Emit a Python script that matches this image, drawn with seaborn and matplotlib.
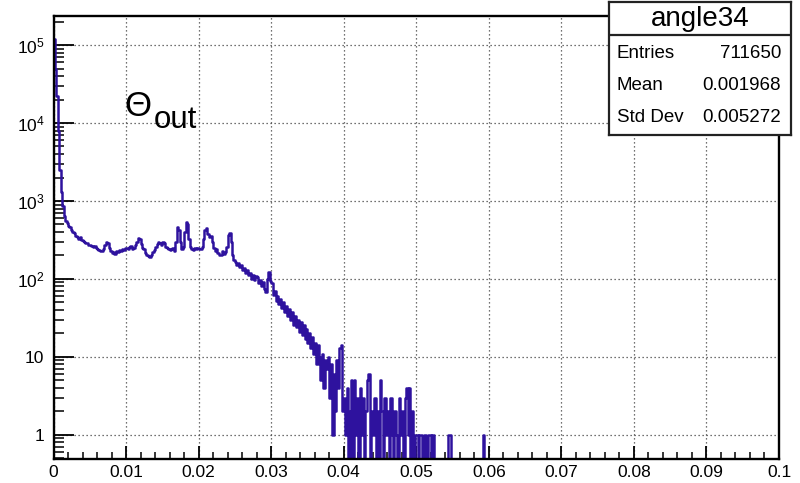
import numpy as np
import pandas as pd
import matplotlib
matplotlib.use("Agg")
import matplotlib.pyplot as plt
import seaborn as sns
from matplotlib.ticker import FixedLocator, FixedFormatter, LogLocator, MultipleLocator, NullFormatter

# Histogram binning: 500 equal bins over [0, 0.1]
x_min, x_max, n_bins = 0.0, 0.1, 500

# Bin contents, in order from x = 0
counts_peak = [120000, 50000, 22000, 8000, 2500, 1300, 850, 650, 560, 520]
counts_plateau = [
    480, 460, 430, 400, 385, 360, 345, 330, 340, 315,
    310, 300, 285, 290, 275, 270, 265, 258, 262, 250,
    245, 238, 230, 225, 240, 275, 295, 285, 250, 225,
    215, 220, 210, 230, 220, 235, 228, 240, 232, 248,
    250, 240, 255, 262, 245, 252, 270, 300, 335, 325,
    280, 250, 240, 215, 200, 195, 190, 205, 220, 235,
    260, 280, 300, 290, 275, 295, 285, 260, 250, 240,
    235, 240, 250, 230, 300, 470, 420, 300, 240, 260,
    400, 545, 500, 330, 255, 245, 235, 250, 240, 250,
    245, 240, 260, 330, 420, 450, 380, 350, 360, 300,
    250, 230, 245, 215, 205, 200, 225, 210, 220, 260,
    370, 390, 300, 200, 175,
]
counts_falloff = [
    165, 150, 160, 142, 150, 132, 140, 120, 130, 112,
    118, 100, 112, 96, 108, 105, 88, 96, 80, 90,
    75, 68, 100, 123, 95, 88, 62, 70, 52, 60,
    47, 55, 42, 50, 38, 45, 33, 41, 30, 38,
    26, 33, 24, 30, 21, 28, 19, 26, 17, 23,
    15, 20, 13, 18, 11, 15, 8, 14, 10, 5,
    11, 4, 9, 7, 10, 3, 8, 1, 6, 2,
    9, 4, 13, 14, 2,
]
counts_tail = [
    3, 1, 4, 0, 2, 5, 0, 5, 1, 3,
    0, 4, 1, 3, 0, 2, 5, 6, 0, 2,
    1, 3, 0, 2, 0, 5, 2, 0, 3, 1,
    2, 0, 3, 1, 0, 2, 1, 0, 3, 1,
    2, 0, 3, 4, 1, 4, 0, 2, 0, 1,
    1, 0, 1, 1, 0, 1, 1, 0, 1, 1,
    0, 1, 0, 0, 0, 0, 0, 0, 0, 0,
    0, 0, 1, 1, 0, 0, 0, 0, 0, 0,
    0, 0, 0, 0, 0, 0, 0, 0, 0, 0,
    0, 0, 0, 0, 0, 0, 1, 0, 0, 0,
]

x_ticks = [0.0, 0.01, 0.02, 0.03, 0.04, 0.05, 0.06, 0.07, 0.08, 0.09, 0.1]
x_tick_labels = ["0", "0.01", "0.02", "0.03", "0.04", "0.05",
                 "0.06", "0.07", "0.08", "0.09", "0.1"]
y_ticks = [1, 10, 100, 1000, 10000, 100000]
y_tick_labels = ["1", "10", r"$\mathdefault{10^{2}}$", r"$\mathdefault{10^{3}}$",
                 r"$\mathdefault{10^{4}}$", r"$\mathdefault{10^{5}}$"]
y_range = (0.49, 2.38e5)

hist_name = "angle34"
stats_labels = ["Entries", "Mean", "Std Dev"]
stats_values = ["711650", "0.001968", "0.005272"]

line_color = "#2e129e"

sns.set_style("ticks")
plt.rcParams["font.family"] = ["Liberation Sans", "DejaVu Sans"]
plt.rcParams["mathtext.fontset"] = "custom"
plt.rcParams["mathtext.rm"] = "Liberation Sans"
plt.rcParams["mathtext.it"] = "Liberation Sans:italic"
plt.rcParams["text.color"] = "black"
plt.rcParams["xtick.color"] = "black"
plt.rcParams["ytick.color"] = "black"
plt.rcParams["xtick.labelcolor"] = "black"
plt.rcParams["ytick.labelcolor"] = "black"

counts = np.array(counts_peak + counts_plateau + counts_falloff + counts_tail, dtype=float)
counts = np.concatenate([counts, np.zeros(n_bins - len(counts))])
edges = np.linspace(x_min, x_max, n_bins + 1)
centers = 0.5 * (edges[:-1] + edges[1:])
df = pd.DataFrame({"angle": centers, "entries": counts})

W, H = 800, 483
fig = plt.figure(figsize=(W / 100, H / 100), dpi=100)
ax = fig.add_axes([53.5 / W, 1 - 459 / H, (779 - 53.5) / W, (459 - 15.7) / H])

sns.histplot(data=df, x="angle", weights="entries", bins=n_bins, binrange=(x_min, x_max),
             element="step", fill=False, color=line_color, linewidth=1.8, ax=ax)
ax.set_yscale("log")
ax.set_xlim(x_min, x_max)
ax.set_ylim(*y_range)
ax.set_xlabel("")
ax.set_ylabel("")

# axis frame and ticks
for side in ["left", "bottom", "right", "top"]:
    ax.spines[side].set_visible(True)
    ax.spines[side].set_color("black")
    ax.spines[side].set_linewidth(1.7)

ax.xaxis.set_major_locator(FixedLocator(x_ticks))
ax.xaxis.set_major_formatter(FixedFormatter(x_tick_labels))
ax.xaxis.set_minor_locator(MultipleLocator(0.002))
ax.yaxis.set_major_locator(FixedLocator(y_ticks))
ax.yaxis.set_major_formatter(FixedFormatter(y_tick_labels))
ax.yaxis.set_minor_locator(LogLocator(base=10, subs=np.arange(2, 10), numticks=20))
ax.yaxis.set_minor_formatter(NullFormatter())

ax.tick_params(axis="x", which="major", direction="in", length=9.5, width=1.3,
               labelsize=12.5, pad=4.5, top=False, colors="black")
ax.tick_params(axis="x", which="minor", direction="in", length=5, width=1.1, top=False,
               colors="black")
ax.tick_params(axis="y", which="major", direction="in", length=14.5, width=1.3,
               labelsize=12.5, pad=6.5, right=False, colors="black")
ax.tick_params(axis="y", which="minor", direction="in", length=7, width=1.1, right=False,
               colors="black")

ax.grid(True, which="major", color="#444444", linestyle=(0, (1, 2.2)), linewidth=0.9)

# angle label
fig.text(124 / W, 1 - 116.5 / H, "\u0398", fontsize=25, va="baseline", ha="left",
         color="black")
fig.text(154 / W, 1 - 127.5 / H, "out", fontsize=22.5, va="baseline", ha="left",
         color="black")

# statistics box
sax = fig.add_axes([609 / W, 1 - 135 / H, (791 - 609) / W, (135 - 2) / H])
sax.set_xlim(0, 1)
sax.set_ylim(0, 1)
sax.set_xticks([])
sax.set_yticks([])
sax.set_facecolor("white")
for s in sax.spines.values():
    s.set_color("#222222")
    s.set_linewidth(1.6)
    s.set_visible(True)
div = (135 - 35) / (135 - 2)
sax.axhline(div, color="#222222", linewidth=1.6)
sax.text(0.5, (135 - 19) / 133, hist_name, fontsize=20, ha="center", va="center",
         color="black")
row_px = [53, 86, 118]
for lab, val, yp in zip(stats_labels, stats_values, row_px):
    yy = (135 - yp) / 133
    sax.text(8 / 182, yy, lab, fontsize=13.5, ha="left", va="center", color="black")
    sax.text(1 - 10 / 182, yy, val, fontsize=13.5, ha="right", va="center", color="black")

fig.savefig("out.png", dpi=100)
